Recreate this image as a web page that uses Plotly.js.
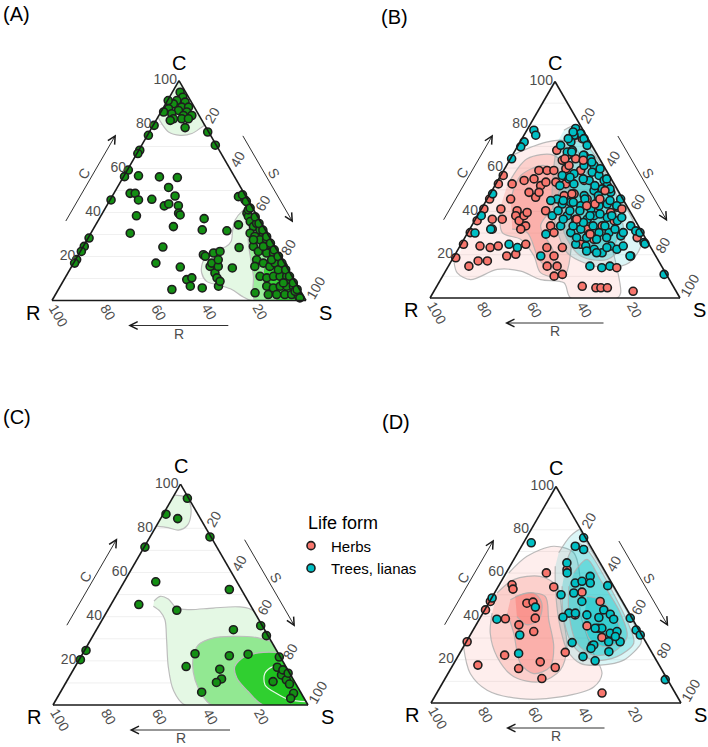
<!DOCTYPE html>
<html>
<head>
<meta charset="utf-8">
<script src="https://cdn.plot.ly/plotly-3.0.1.min.js"></script>
<style>
  html, body { margin: 0; padding: 0; background: #ffffff; }
  #chart { width: 708px; height: 747px; }
</style>
</head>
<body>
<div id="chart"></div>
<script>
// CSR strategy scores (%) per species. Only C and S are listed; R = 100 - C - S
// is filled in by the ternary subplot (sum = 100).

// ---- (A) all species ----
const allC = [
  94.7, 92.4, 90.9, 90.2, 89.4, 87.9, 87.9, 87.2, 86.4, 85.7, 84.9, 84.1, 84.1, 85.7, 82.6, 82.6, 82.6, 81.9, 78.6, 90.9,
  79.6, 75.1, 68.3, 66.8, 59.3, 56.3, 45.7, 28.4, 24.6, 22.3, 18.6, 17.0,
  76.6, 70.6,
  56.7, 56.2, 55.9, 51.4, 48.7, 48.7, 45.7, 46.0, 47.5, 43.0, 43.9, 43.1, 39.7, 38.9, 38.5, 33.6, 30.6, 37.2, 32.1, 31.7,
  34.4, 24.1, 24.3, 17.0, 15.2, 5.0, 9.5, 10.3, 6.5, 5.7, 20.8, 20.1, 15.5, 17.0, 21.6, 12.5, 10.3, 6.5, 8.7, 15.5, 18.5, 14.8, 22.3,
  47.2, 45.7, 39.7, 38.2, 35.9, 33.6, 35.1, 32.1, 30.6, 30.6, 29.1, 27.6, 27.6, 25.3, 24.6, 22.3, 21.6, 21.6, 20.1, 18.5,
  17.0, 15.5, 17.0, 15.5, 15.5, 11.0, 10.3, 11.0, 11.0, 11.0, 6.5, 5.7, 6.5, 6.5, 6.5, 3.5, 2.7, 2.7, 2.7, 2.7,
  2.0, 1.2, 41.2, 27.6, 24.6, 18.5, 9.5, 14.0, 8.0, 4.2,
  48, 45, 42, 38, 35, 32, 29, 26, 23, 20, 17, 14, 11, 8, 5
];
const allS = [
  3.1, 5.3, 3.7, 7.3, 3.1, 7.1, 9.8, 2.3, 6.6, 10.2, 4.7, 9.7, 13.0, 1.1, 6.5, 9.8, 12.4, 5.6, 13.1, 0.3,
  0.4, 0.4, 0.4, 0.4, 0.4, 0.4, 0.4, 0.4, 0.4, 0.4, 0.4, 0.4,
  23.0, 29.0,
  5.7, 14.2, 21.4, 20.2, 6.4, 8.4, 11.2, 16.3, 24.7, 22.7, 24.0, 28.2, 30.0, 31.0, 14.0, 31.0, 15.5, 41.3, 43.1, 53.0,
  56.2, 61.6, 31.5, 32.4, 42.9, 44.7, 48.3, 49.9, 51.2, 56.3, 49.2, 50.3, 54.5, 54.4, 52.8, 57.9, 59.8, 62.3, 61.8, 57.7, 56.2, 63.6, 55.0,
  49.8, 53.1, 56.9, 58.2, 60.1, 62.5, 63.0, 65.8, 67.9, 62.7, 65.3, 68.1, 70.7, 73.1, 67.0, 70.1, 73.7, 76.4, 79.1, 71.3,
  74.7, 78.0, 79.3, 83.3, 72.1, 76.4, 79.4, 81.7, 84.3, 86.9, 81.3, 84.3, 86.6, 89.2, 91.8, 78.2, 83.8, 87.1, 90.3, 93.0,
  96.0, 97.0, 56.7, 65.5, 70.9, 77.2, 88.9, 82.1, 87.1, 93.6,
  51, 54, 57, 61, 64, 67, 70, 73, 76, 79, 82, 85, 88, 91, 94
];

// density bands for (A), outermost first
const allDensC = [
  [83.4, 80.4, 76.6, 75.1, 75.9, 78.1, 80.1, 100],
  [43, 40.4, 36.6, 32.1, 26.8, 24.3, 23.8, 21.6, 17.0, 12.5, 8.7, 6.8, 5.0, 2.0, 0, 0],
  [40, 29.1, 20.1, 11.0, 0, 0],
  [22, 18.5, 11, 3.5, 0, 0]
];
const allDensS = [
  [0, 3.0, 7.6, 12.9, 17.1, 19.0, 19.9, 0],
  [57, 54.5, 53.8, 55.1, 57.1, 56.1, 53.0, 50.8, 50.7, 52.7, 56.5, 62.8, 68.3, 73.7, 78.6, 100],
  [60, 62.7, 68.0, 73.8, 79.9, 100],
  [78, 75.2, 77.7, 84.1, 88.5, 100]
];
const allDensFill = ['#e4f8e4', '#e4f8e4', '#9cee9c', '#3ad83a'];

// ---- (B) all species by life form ----
const herbsC = [
  18.6, 24.8, 30.2, 35.7, 41.1, 45.7, 52.7, 56.6,
  14.7, 17.1, 17.1, 24.0, 23.3, 24.0, 19.4, 20.2, 24.8, 31.8, 36.4, 36.4, 41.1, 45.7, 52.7, 40.3, 38.0, 35.7, 38.0, 39.5,
  33.3, 31.8, 46.5, 54.3, 55.0, 51.9, 48.8, 48.8, 53.5, 58.9, 58.9, 58.9, 53.5, 40.3, 33.3, 30.2, 23.3, 19.4, 14.7, 14.7,
  10.9, 10.1, 23.3, 68.2, 63.6, 59.7, 65.9, 61.2, 64.3, 58.9, 65.9, 52.7, 48.1, 47.3, 54.3, 45.7, 45.7, 39.5, 41.9, 35.7,
  33.3, 31.8, 27.1, 24.8, 27.9, 5.4, 4.7, 4.7, 4.7, 3.1, 75.2, 73.6
];
const herbsS = [
  1, 1, 1, 1, 1, 1, 1, 1,
  8.2, 10.7, 14.4, 8.0, 12.4, 15.3, 21.0, 24.2, 25.9, 9.0, 6.7, 10.7, 7.8, 9.4, 6.5, 14.7, 15.3, 17.8, 18.6, 19.1,
  21.6, 20.4, 19.0, 10.5, 14.1, 18.3, 15.2, 19.2, 19.6, 17.4, 14.1, 20.1, 23.6, 26.1, 31.6, 34.5, 35.1, 39.9, 39.5, 43.5,
  47.5, 44.6, 41.3, 16.6, 21.1, 24.5, 22.0, 25.0, 26.1, 30.8, 28.7, 27.9, 33.6, 30.0, 34.5, 40.0, 44.7, 52.5, 54.0, 55.8,
  52.2, 47.0, 52.0, 47.9, 68.9, 58.2, 64.0, 66.0, 68.6, 79.7, 20.7, 24.1
];
// herbs lying within the tree cloud (plotted above it)
const herbsMixC = [64.3, 63.6, 49.6, 42.6, 48.1, 43.4, 36.4, 29.5, 14.0, 41.1, 45.7];
const herbsMixS = [21.8, 29.5, 45.2, 41.4, 32.7, 44.3, 40.5, 49.3, 67.7, 56.2, 45.1];
const treesC = [
  77.5, 75.2, 72.1, 69.8, 78.3, 76.0, 73.6, 75.2, 72.1, 70.5, 70.5, 67.4, 68.2, 64.3, 61.2, 58.1, 61.2, 57.4, 56.6, 55.0,
  52.7, 54.3, 56.6, 54.3, 51.9, 50.4, 48.8, 49.6, 47.3, 45.7, 43.4, 44.2, 42.6, 41.1, 42.6, 43.4, 45.7, 38.0, 38.0, 36.4,
  36.4, 38.0, 37.2, 35.7, 33.3, 31.0, 25.6, 33.3, 30.2, 31.8, 29.5, 30.2, 30.2, 28.7, 24.8, 24.0, 22.5, 20.9, 24.0, 19.4,
  31.8, 24.8, 23.3, 19.4, 29.5, 45.0, 10.9, 48.1, 64.3, 38.0, 30.0,
  76.7, 73.6, 67.4, 65.9, 62.8, 59.7, 55.0, 50.4, 51.9, 55.0, 55.8, 51.9, 45.0, 44.2, 45.7, 47.3, 45.0, 42.6, 37.2, 38.0,
  38.8, 38.0, 40.3, 40.3, 40.3, 36.4, 33.3, 34.9, 33.3, 33.3, 31.8, 30.2, 27.9, 27.1, 27.9, 27.9, 23.3, 20.9, 21.7, 22.5,
  24.0, 14.0, 14.7, 14.7, 30.2, 25.0, 19.4
];
const treesS = [
  2.8, 4.7, 1.6, 1.4, 19.1, 22.3, 24.8, 20.0, 20.3, 27.6, 17.0, 21.2, 22.8, 32.1, 35.0, 35.8, 31.0, 28.9, 24.6, 28.1,
  31.2, 36.5, 39.3, 42.5, 44.9, 43.7, 47.9, 40.8, 38.0, 28.0, 31.2, 34.2, 39.0, 43.8, 46.3, 49.2, 53.4, 29.9, 35.9, 40.1,
  44.7, 46.6, 52.3, 57.1, 63.6, 66.8, 72.8, 35.6, 41.2, 44.4, 48.9, 52.5, 56.5, 62.0, 45.9, 50.3, 54.4, 58.4, 60.3, 70.6,
  8.4, 19.2, 23.3, 34.6, 31.6, 25.8, 88.2, 1, 0.5, 1.5, 3,
  18.9, 18.5, 23.0, 28.4, 33.3, 38.2, 43.2, 46.8, 40.0, 33.8, 28.1, 26.0, 30.8, 35.2, 39.1, 43.7, 49.5, 53.4, 58.1, 53.7,
  48.6, 45.0, 39.8, 35.8, 31.1, 35.1, 40.6, 43.9, 48.6, 53.3, 58.1, 62.2, 56.7, 53.1, 48.7, 44.7, 59.1, 56.2, 51.8, 63.5,
  65.3, 61.7, 64.6, 56.6, 68.9, 73.5, 70.3
];
const herbsDensC = [
  [65.9, 69.0, 72.1, 72.9, 70.5, 61.2, 45.7, 30.2, 13.2, 2.3, 0, 0, 7.0, 8.5, 12.4, 13.2, 8.5, 11.6, 16.3],
  [51.9, 64.3, 65.9, 58.1, 42.6, 20.9, 10.1, 11.6, 19.4, 27.1, 30.2, 42.6],
  [45.7, 56.6, 61.2, 56.6, 42.6, 33.3, 20.9, 13.2, 17.8, 30.2, 31.8]
];
const herbsDensS = [
  [0, 4.4, 10.9, 15.9, 22.3, 31.0, 42.7, 55.8, 68.3, 75.1, 74.9, 56.3, 50.1, 40.0, 30.1, 20.3, 12.0, 5.1, 1.5],
  [4.9, 6.7, 16.7, 25.8, 35.0, 45.8, 48.6, 38.5, 31.9, 22.7, 13.8, 7.0],
  [9.4, 8.0, 15.0, 24.0, 28.3, 27.6, 39.1, 41.7, 34.7, 23.8, 17.0]
];
const treesDensC = [
  [77.5, 79.8, 79, 35, 25, 16.3, 14.0, 16.3, 20.9, 31.8, 45.7, 61.2, 72.1],
  [73.6, 70, 45, 39.5, 25.6, 17.8, 19.4, 30.2, 45.7, 64.3],
  [58.1, 51.9, 38.0, 24.0, 20.9, 27.1, 39.5, 51.9]
];
const treesDensS = [
  [14.8, 18.4, 20, 64, 72, 71.5, 63.9, 53.5, 44.4, 34.8, 26.0, 19.0, 14.9],
  [18.1, 28, 53, 56.5, 64.8, 62.0, 50.6, 38.5, 29.4, 20.7],
  [28.5, 42.3, 55.9, 61.6, 55.1, 44.7, 35.8, 29.6]
];

// ---- (C) species subset ----
const subC = [
  93.6, 86.4, 84.4, 76.1, 71.5, 55.8, 52.3, 45.5, 42.9, 34.1, 35.9, 31.4, 23.2, 22.3, 23.0, 17.4, 16.2, 11.8, 10.2, 5.8,
  21.7, 17.1, 13.6, 10.6, 11.4, 9.5, 5.3, 3.0, 15.9, 14.4, 20.5, 24.7
];
const subS = [
  5.9, 1.1, 6.7, 23.5, 0.3, 12.4, 43.0, 10.9, 27.1, 53.7, 63.5, 68.0, 44.1, 58.0, 65.0, 43.5, 57.3, 60.2, 59.0, 55.4,
  77.9, 79.4, 82.8, 81.0, 85.8, 88.0, 91.7, 91.7, 82.2, 85.0, 0.5, 0.6
];
const subDensC = [
  [95, 94.4, 91.7, 86.4, 81.4, 79.2, 80.3, 81],
  [47.0, 49.2, 48.0, 43.9, 43.2, 43.9, 44.4, 42.5, 0, 0, 6.8, 17.4, 29.5, 38.6, 42.4, 44.7],
  [28.8, 30.8, 31.1, 30.3, 27.3, 20.5, 11.4, 3.8, 0, 0],
  [23.8, 23.8, 22.0, 17.4, 12.1, 6.1, 0, 0],
  [16.7, 17.4, 14.4, 9.1, 5.3, 2.3, 1.5]
];
const subDensS = [
  [0, 3.9, 7.7, 10.9, 12.0, 9.6, 5.0, 0],
  [16.1, 17.4, 21.2, 26.5, 32.1, 40.8, 51.1, 57.5, 100, 51.8, 43.8, 36.5, 29.8, 24.6, 20.8, 17.0],
  [71.2, 63.1, 55.2, 47.6, 43.4, 44.6, 50.0, 57.0, 62.2, 100],
  [76.2, 70.5, 64.2, 62.6, 66.1, 73.5, 82.4, 100],
  [83.3, 77.6, 75.9, 78.6, 84.9, 91.7, 98.5]
];
const subDensFill = ['#e4f8e4', '#e4f8e4', '#92e892', '#30cf30', '#1ec21e'];

// ---- (D) species subset by life form ----
const subHerbsC = [
  28.3, 43.0, 46.9, 17.5, 22.1, 38.9, 54.6, 52.6, 36.1, 15.9, 46.1, 46.6, 33.0, 39.2, 19.0, 11.3, 60.1, 53.6, 16.4, 23.4,
  61.6, 51.2, 40.7, 26.5, 34.5, 46.9, 30.3, 35.6, 4.6
];
const subHerbsS = [
  0.3, 0.3, 0.3, 10.0, 18.4, 10.3, 5.1, 6.5, 17.1, 27.1, 15.3, 17.5, 24.6, 22.1, 34.2, 38.7, 16.1, 22.3, 41.5, 42.0,
  23.6, 34.8, 37.3, 51.2, 49.5, 44.2, 53.2, 44.6, 66.1
];
const subTreesC = [
  74.0, 76.3, 72.4, 70.9, 64.7, 60.1, 55.4, 56.2, 58.5, 55.4, 50.8, 46.9, 41.5, 41.5, 40.7, 39.6, 50.0, 44.3, 54.2, 39.5,
  43.0, 41.0, 38.7, 34.5, 34.5, 32.2, 33.0, 28.3, 28.3, 30.7, 26.8, 25.2, 23.7, 19.5, 21.4, 27.9, 39.2, 33.7, 31.4, 10.8,
  38.7, 31.4, 22.9, 48.5
];
const subTreesS = [
  3.1, 22.9, 21.5, 25.6, 22.0, 24.4, 30.0, 32.3, 34.4, 36.0, 31.7, 36.9, 34.4, 37.0, 42.0, 33.0, 27.0, 19.6, 43.6, 47.4,
  47.6, 51.2, 53.7, 51.1, 48.4, 55.6, 57.9, 56.9, 61.5, 58.4, 51.7, 51.4, 59.3, 55.9, 50.1, 42.5, 60.1, 65.2, 68.0, 88.3,
  7.0, 19.8, 23.6, 0.2
];
const subHerbsDensC = [
  [60.1, 67.8, 72.4, 69.4, 57.0, 41.5, 22.9, 13.6, 7.4, 2.8, 2.0, 5.9, 13.6, 26],
  [50.8, 57.0, 58.5, 53.9, 41.5, 26.0, 15.2, 9.8, 12.1, 21.4, 32.2, 41.5],
  [47.7, 50.8, 49.2, 38.4, 26.0, 16.7, 13.6, 18.3, 32.2, 41.5],
  [49.2, 50.8, 46.1, 38.4, 36.1, 39.9]
];
const subHerbsDensS = [
  [1.1, 4.5, 12.9, 22.4, 31.2, 39.0, 53.6, 61.6, 61.4, 50.3, 34.7, 19.5, 8.9, 0],
  [1.0, 4.6, 14.4, 23.5, 31.7, 41.4, 44.1, 38.8, 27.1, 15.7, 7.6, 3.7],
  [7.9, 13.0, 21.1, 27.9, 36.1, 39.3, 34.3, 26.6, 17.0, 9.7],
  [9.1, 15.7, 21.3, 23.9, 20.4, 14.4]
];
const subTreesDensC = [
  [69.4, 77.1, 80.2, 79, 30, 27.6, 19.8, 17.5, 18.3, 24.5, 38.4, 53.9, 63.2],
  [66.3, 74.0, 70, 35, 27.6, 21.4, 19.8, 26.0, 38.4, 53.9],
  [60.1, 66.3, 57.0, 41.5, 30.7, 23.7, 22.1, 27.6, 41.5, 53.9],
  [49.2, 47.7, 38.4, 29.1, 26.0, 29.1, 38.4]
];
const subTreesDensS = [
  [16.4, 17.2, 19.6, 20.5, 69, 70.2, 67.2, 59.0, 50.6, 42.2, 31.9, 22.8, 18.1],
  [21.3, 21.4, 28, 62, 67.3, 63.7, 55.2, 44.1, 33.9, 25.5],
  [27.1, 29.3, 39.2, 55.0, 63.1, 61.3, 54.0, 44.6, 34.4, 28.2],
  [37.8, 43.9, 55.2, 61.1, 57.4, 49.1, 41.9]
];

// axis ticks and legend entries
const tickValues = [20, 40, 60, 80, 100];
const gridValues = [10, 20, 30, 40, 50, 60, 70, 80, 90, 100];
const lifeForms = ['Herbs', 'Trees, lianas'];

const HERB = '#F8766D', TREE = '#00BFC4', GREEN = '#138f13';
const herbBand = ['rgba(248,118,109,0.12)', 'rgba(248,118,109,0.25)', 'rgba(248,118,109,0.35)', 'rgba(248,118,109,0.45)'];
const treeBand = ['rgba(0,191,196,0.14)', 'rgba(0,191,196,0.25)', 'rgba(0,191,196,0.35)', 'rgba(0,191,196,0.45)'];

const FONT = '"Liberation Sans", Arial, Helvetica, sans-serif';
const W = 708, H = 747;
const R3 = Math.sqrt(3) / 2;

// panel frames in pixels: left (R) vertex x, right (S) vertex x, base y
const panels = [
  { sub: 'ternary',  xR: 52,  xS: 306, yB: 300.5, tag: '(A)', tx: 1,   ty: 14 },
  { sub: 'ternary2', xR: 430, xS: 680, yB: 298,   tag: '(B)', tx: 379, ty: 17 },
  { sub: 'ternary3', xR: 53,  xS: 308, yB: 705,   tag: '(C)', tx: 1,   ty: 417 },
  { sub: 'ternary4', xR: 431, xS: 681, yB: 703,   tag: '(D)', tx: 380, ty: 422 }
];

const px = x => x / W;
const py = y => 1 - y / H;

const traces = [];

function bands(sub, cs, ss, fills, lineCol) {
  cs.forEach((c, i) => {
    traces.push({
      type: 'scatterternary', subplot: sub, mode: 'lines', fill: 'toself',
      a: c, c: ss[i],
      fillcolor: fills[i],
      line: { color: lineCol, width: 1.2, shape: 'spline', smoothing: 0.9 },
      hoverinfo: 'skip', showlegend: false
    });
  });
}

function points(sub, cArr, sArr, color, name, legend, group) {
  traces.push({
    type: 'scatterternary', subplot: sub, mode: 'markers',
    a: cArr, c: sArr, name: name,
    legendgroup: group, showlegend: legend,
    cliponaxis: false,
    marker: { size: 8, color: color, line: { color: '#1e1e1e', width: 1.6 } },
    hoverinfo: 'skip'
  });
}

// (A)
bands('ternary', allDensC, allDensS, allDensFill, '#bdbdbd');
points('ternary', allC, allS, GREEN, 'All', false, 'all');

// (B)
bands('ternary2', herbsDensC, herbsDensS, herbBand, 'rgba(175,175,175,0.85)');
bands('ternary2', treesDensC, treesDensS, treeBand, 'rgba(175,175,175,0.85)');
points('ternary2', herbsC, herbsS, HERB, lifeForms[0], true, 'herbs');
points('ternary2', treesC, treesS, TREE, lifeForms[1], true, 'trees');
points('ternary2', herbsMixC, herbsMixS, HERB, lifeForms[0], false, 'herbs');

// (C)
bands('ternary3', subDensC, subDensS, subDensFill, '#bdbdbd');
traces[traces.length - 1].line.color = '#e8f8e8';
points('ternary3', subC, subS, GREEN, 'Subset', false, 'all');

// (D)
bands('ternary4', subHerbsDensC, subHerbsDensS, herbBand, 'rgba(175,175,175,0.85)');
bands('ternary4', subTreesDensC, subTreesDensS, treeBand, 'rgba(175,175,175,0.85)');
points('ternary4', subHerbsC, subHerbsS, HERB, lifeForms[0], false, 'herbs');
points('ternary4', subTreesC, subTreesS, TREE, lifeForms[1], false, 'trees');

const tickFont = { family: FONT, size: 14, color: '#4d4d4d' };
function axis(angle, grid, labels) {
  const ax = {
    tickmode: 'array',
    tickvals: tickValues,
    ticktext: tickValues.map(String),
    tickangle: angle,
    ticks: '',
    showticklabels: labels,
    showline: true, linecolor: '#1a1a1a', linewidth: 1.6,
    showgrid: grid, gridcolor: '#eeeeee', gridwidth: 0.8,
    tickfont: tickFont,
    title: { text: '' }
  };
  if (grid) {
    ax.tickvals = gridValues;
    ax.ticktext = gridValues.map(v => (tickValues.includes(v) ? String(v) : ''));
  }
  return ax;
}

const layout = {
  width: W, height: H,
  margin: { l: 0, r: 0, t: 0, b: 0 },
  paper_bgcolor: '#ffffff',
  font: { family: FONT, color: '#000000' },
  showlegend: true,
  legend: {
    x: px(291), y: py(506), xanchor: 'left', yanchor: 'top',
    bgcolor: 'rgba(0,0,0,0)',
    title: { text: '\u00A0\u00A0\u00A0Life form', font: { family: FONT, size: 18, color: '#000' } },
    font: { family: FONT, size: 15, color: '#000' },
    itemwidth: 30, tracegroupgap: 0
  },
  annotations: [],
  shapes: []
};

const arrowCol = '#1a1a1a', labCol = '#4d4d4d';
function arrow(x0, y0, x1, y1) {
  layout.annotations.push({
    xref: 'paper', yref: 'paper', x: px(x1), y: py(y1),
    ax: x0 - x1, ay: y0 - y1, axref: 'pixel', ayref: 'pixel',
    text: '', showarrow: true, arrowhead: 5, arrowsize: 1.7, arrowwidth: 0.9,
    arrowcolor: arrowCol, standoff: 0, startstandoff: 0
  });
}
function label(txt, x, y, size, color, angle, anchor) {
  layout.annotations.push({
    xref: 'paper', yref: 'paper', x: px(x), y: py(y),
    xanchor: anchor || 'center', yanchor: 'middle',
    text: txt, showarrow: false, textangle: angle || 0,
    font: { family: FONT, size: size, color: color }
  });
}

panels.forEach(p => {
  const w = p.xS - p.xR;
  const yT = p.yB - w * R3;
  layout[p.sub] = {
    domain: { x: [px(p.xR), px(p.xS)], y: [py(p.yB), py(yT)] },
    sum: 100,
    bgcolor: '#ffffff',
    aaxis: axis(0, true, true),
    baxis: axis(60, false, false),
    caxis: axis(-60, false, true)
  };
  // R-axis tick labels, slanted and hanging below the base from each tick
  tickValues.forEach(v => {
    const tx = p.xR + w * (100 - v) / 100;
    const len = String(v).length * 7.8;
    label(String(v), tx + 1 + 0.25 * len, p.yB + 5 + 0.433 * len, 14, '#4d4d4d', 60);
  });
  // corner names
  label('C', (p.xR + p.xS) / 2, yT - 18, 20, '#000');
  label('R', p.xR - 19, p.yB + 12, 20, '#000');
  label('S', p.xS + 19, p.yB + 12, 20, '#000');
  // panel tag
  label(p.tag, p.tx, p.ty, 20, '#000', 0, 'left');
  // direction arrows along the three sides
  const cx0 = p.xR + 0.051 * w, cy0 = p.yB - 0.307 * w;
  const cx1 = p.xR + 0.252 * w, cy1 = p.yB - 0.654 * w;
  arrow(cx0, cy0, cx1, cy1);
  label('C', (cx0 + cx1) / 2 - 6, (cy0 + cy1) / 2 - 5, 14, labCol, -60);
  const sx0 = p.xS - 0.252 * w, sy0 = p.yB - 0.654 * w;
  const sx1 = p.xS - 0.051 * w, sy1 = p.yB - 0.307 * w;
  arrow(sx0, sy0, sx1, sy1);
  label('S', (sx0 + sx1) / 2 + 6, (sy0 + sy1) / 2 - 5, 14, labCol, 60);
  const ry = p.yB + 25;
  arrow(p.xR + 0.70 * w, ry, p.xR + 0.30 * w, ry);
  label('R', p.xR + 0.5 * w, p.yB + 33, 14, labCol);
});

Plotly.newPlot('chart', traces, layout, { staticPlot: true, displayModeBar: false });
</script>
</body>
</html>
